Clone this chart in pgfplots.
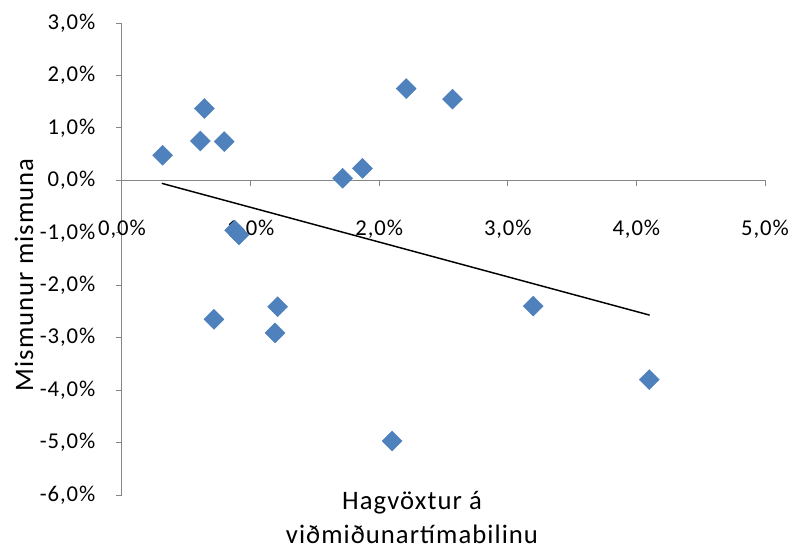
\documentclass[border=0pt]{standalone}
\usepackage{fontspec}
\setmainfont{Carlito}
\newfontfamily\tickfont[LetterSpace=4]{Carlito}
\newfontfamily\titlefont[LetterSpace=4]{Carlito}
\usepackage{pgfplots}
\pgfplotsset{compat=1.18}
\definecolor{axgray}{HTML}{868686}
\definecolor{mblue}{HTML}{4F81BD}
\definecolor{mblueb}{HTML}{4A7EBB}
\begin{document}
\begin{tikzpicture}
\path[use as bounding box] (-91.5pt,-42pt) rectangle (503.25pt,371.25pt);
\begin{axis}[
  at={(0,0)}, anchor=south west,
  scale only axis, width=482.25pt, height=354pt,
  xmin=0, xmax=5, ymin=-6, ymax=3,
  axis x line=middle, axis y line=left,
  axis line style={axgray, line width=0.75pt, -},
  every inner x axis line/.append style={-},
  every outer y axis line/.append style={-},
  xtick={0,1,2,3,4,5}, ytick={-6,-5,-4,-3,-2,-1,0,1,2,3},
  xticklabels={{0,0\%},{1,0\%},{2,0\%},{3,0\%},{4,0\%},{5,0\%}},
  yticklabels={{-6,0\%},{-5,0\%},{-4,0\%},{-3,0\%},{-2,0\%},{-1,0\%},{0,0\%},{1,0\%},{2,0\%},{3,0\%}},
  tick align=outside, major tick length=4.5pt,
  tick style={axgray, line width=0.75pt},
  minor tick num=0,
  hide obscured x ticks=false, hide obscured y ticks=false,
  xticklabel style={font=\fontsize{17}{20}\tickfont, text=black, anchor=center, yshift=-32pt},
  yticklabel style={font=\fontsize{17}{20}\tickfont, text=black, anchor=east, xshift=-12pt},
  clip=false,
]
\addplot[black, line width=1.1pt] coordinates {(0.309,-0.057) (4.103,-2.57)};
\addplot[only marks, mark=square*, mark size=5.3pt,
  mark options={rotate=45, fill=mblue, draw=mblueb, line width=0.3pt}] coordinates {
(0.316,0.48)
(0.64,1.37)
(0.61,0.75)
(0.795,0.74)
(0.876,-0.95)
(0.91,-1.04)
(0.715,-2.65)
(1.21,-2.41)
(1.19,-2.91)
(1.716,0.04)
(1.87,0.23)
(2.21,1.75)
(2.57,1.55)
(2.10,-4.97)
(3.198,-2.40)
(4.10,-3.80)
};
\end{axis}
\node[rotate=90, font=\fontsize{20}{24}\titlefont] at (-73.5pt,165pt) {Mismunur mismuna};
\node[align=center, inner sep=1pt, font=\fontsize{20}{25.5}\titlefont] at (217.5pt,-17pt) {Hagvöxtur á\\viðmiðunartímabilinu};
\end{tikzpicture}
\end{document}
